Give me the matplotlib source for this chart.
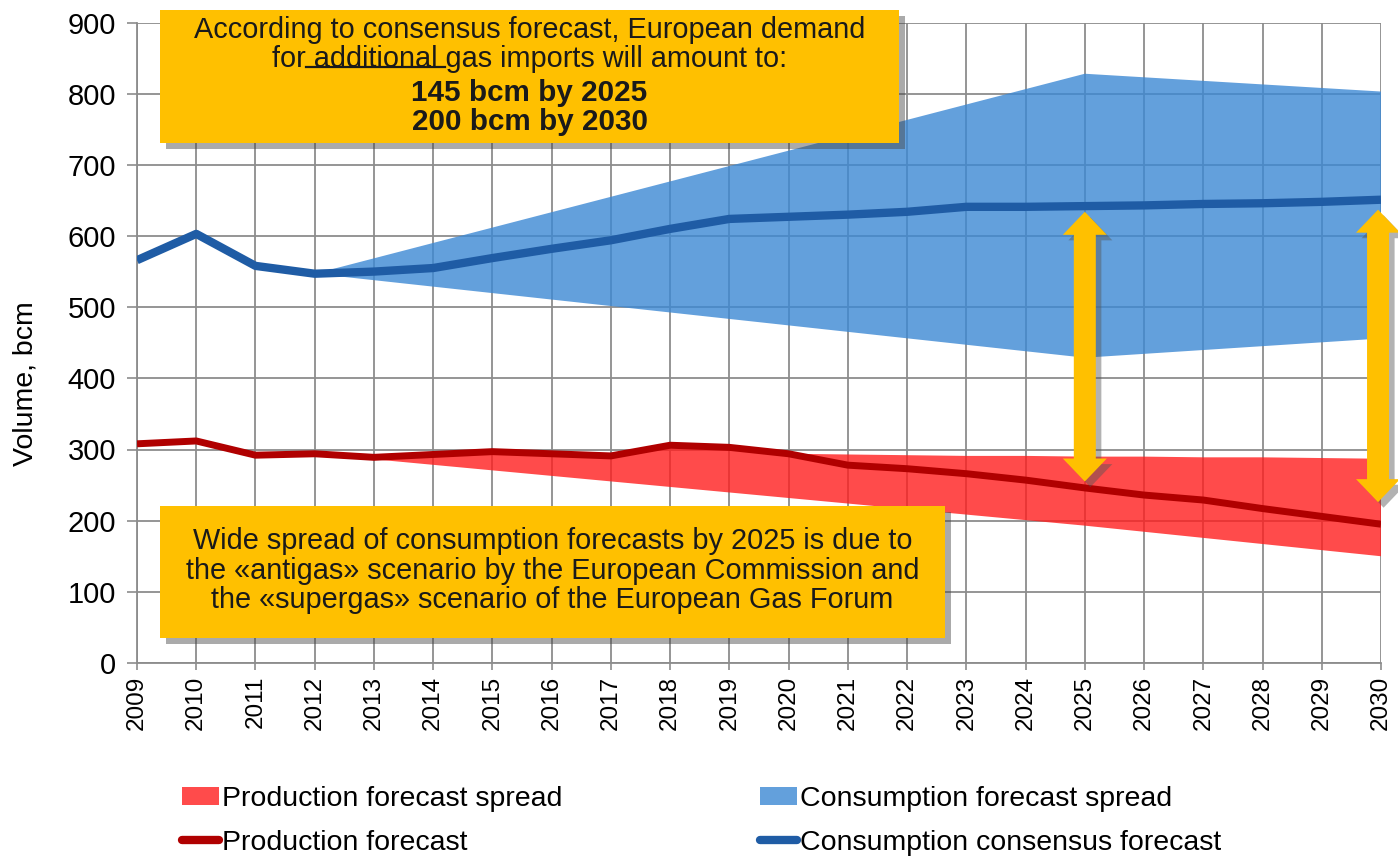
import numpy as np
import matplotlib
matplotlib.use("Agg")
import matplotlib.pyplot as plt
from matplotlib.patches import Rectangle, Polygon, Patch
from matplotlib.lines import Line2D
import matplotlib.patheffects as pe

plt.rcParams['font.family'] = ['Liberation Sans', 'DejaVu Sans']

# ---------------- data ----------------
years = list(range(2009, 2031))
year_labels = [str(y) for y in years]
consumption_consensus = [566, 603, 558, 547, 550, 555, 569, 582, 594, 610, 624, 627,
                         630, 634, 641, 641, 642, 643, 645, 646, 648, 651]
production_forecast = [308, 312, 292, 294, 289, 293, 297, 294, 291, 306, 303, 294,
                       278, 273, 266, 257, 246, 236, 229, 217, 206, 195]

cons_spread_years = [2012, 2025, 2030]
cons_spread_upper = [547, 828, 803]
cons_spread_lower = [547, 429, 456]

prod_upper_years = list(range(2012, 2031))
prod_spread_upper = [294, 289, 293, 297, 294, 291, 306, 303, 294, 293, 292, 291,
                     291, 290, 290, 289, 289, 288, 287]
prod_lower_years = [2012, 2025, 2030]
prod_spread_lower = [294, 193, 150]

arrow_years = [2025, 2029.95]
arrow_tops = [634, 637]
arrow_bottoms = [255, 226]

yticks = list(range(0, 901, 100))

legend_labels = ["Production forecast spread", "Production forecast",
                 "Consumption forecast spread", "Consumption consensus forecast"]

top_box_lines = ["According to consensus forecast, European demand",
                 "for additional gas imports will amount to:",
                 "145 bcm by 2025", "200 bcm by 2030"]
bottom_box_lines = ["Wide spread of consumption forecasts by 2025 is due to",
                    "the \u00abantigas\u00bb scenario by the European Commission and",
                    "the \u00absupergas\u00bb scenario of the European Gas Forum"]

# ---------------- colours ----------------
C_BLUE_FILL = '#3C88D4'
C_RED_FILL = '#FF1E1E'
C_BLUE_LINE = '#1F5CA5'
C_RED_LINE = '#B00000'
C_YELLOW = '#FFC000'
C_GRID = '#8C8C8C'

W, H = 1398, 857
fig = plt.figure(figsize=(W / 100, H / 100), dpi=100)

def fx(px):
    return px / W

def fy(py):
    return 1 - py / H

ax = fig.add_axes([fx(137), fy(663), fx(1381) - fx(137), fy(22.5) - fy(663)])
ax.set_xlim(2009, 2030)
ax.set_ylim(0, 900)

ax.set_xticks(years)
ax.set_xticklabels(year_labels, rotation=90, fontsize=17.5)
ax.set_yticks(yticks)
ax.set_yticklabels([str(v) for v in yticks], fontsize=21)
ax.tick_params(axis='y', length=7, width=1.2, color=C_GRID, pad=8)
ax.tick_params(axis='x', length=5, width=1.2, color=C_GRID, pad=4)
ax.grid(True, color=C_GRID, linewidth=1.3, zorder=0)
ax.set_axisbelow(True)
for s in ['top', 'right']:
    ax.spines[s].set_visible(False)
for s in ['left', 'bottom']:
    ax.spines[s].set_color(C_GRID)
    ax.spines[s].set_linewidth(1.3)

# spreads
ax.fill(np.r_[cons_spread_years, cons_spread_years[::-1]],
        np.r_[cons_spread_upper, cons_spread_lower[::-1]],
        color=C_BLUE_FILL, alpha=0.8, lw=0, zorder=2)
ax.fill(np.r_[prod_upper_years, prod_lower_years[::-1]],
        np.r_[prod_spread_upper, prod_spread_lower[::-1]],
        color=C_RED_FILL, alpha=0.8, lw=0, zorder=2)

# lines
ax.plot(years, consumption_consensus, color=C_BLUE_LINE, lw=6,
        solid_joinstyle='round', solid_capstyle='butt', zorder=4)
ax.plot(years, production_forecast, color=C_RED_LINE, lw=5,
        solid_joinstyle='round', solid_capstyle='butt', zorder=4)

# double-headed yellow arrows (single polygon each)
sw = 22 / 59.24 / 2
hw = 44 / 59.24 / 2
hl = 23 / 0.7117
shadow = [pe.SimplePatchShadow(offset=(4, -4), shadow_rgbFace='#555555', alpha=0.45), pe.Normal()]
for xa, top, bot in zip(arrow_years, arrow_tops, arrow_bottoms):
    verts = [(xa, top), (xa + hw, top - hl), (xa + sw, top - hl), (xa + sw, bot + hl),
             (xa + hw, bot + hl), (xa, bot), (xa - hw, bot + hl), (xa - sw, bot + hl),
             (xa - sw, top - hl), (xa - hw, top - hl)]
    a = Polygon(verts, closed=True, facecolor=C_YELLOW, lw=0, zorder=6, clip_on=False)
    a.set_path_effects(shadow)
    ax.add_patch(a)

# text boxes
box_shadow = [pe.SimplePatchShadow(offset=(4, -4), shadow_rgbFace='#444444', alpha=0.45), pe.Normal()]
top_box = Rectangle((fx(160), fy(143)), fx(899) - fx(160), fy(10) - fy(143),
                    transform=fig.transFigure, facecolor=C_YELLOW, lw=0, zorder=10)
top_box.set_path_effects(box_shadow)
fig.add_artist(top_box)
bot_box = Rectangle((fx(160), fy(638)), fx(945) - fx(160), fy(506) - fy(638),
                    transform=fig.transFigure, facecolor=C_YELLOW, lw=0, zorder=10)
bot_box.set_path_effects(box_shadow)
fig.add_artist(bot_box)

box_fs = 20.8
top_cx = (160 + 899) / 2
top_ys = [30, 59, 93, 122]
top_texts = []
for i, (line, yy) in enumerate(zip(top_box_lines, top_ys)):
    t = fig.text(fx(top_cx), fy(yy), line, ha='center', va='center',
                 fontsize=box_fs if i < 2 else box_fs + 0.5,
                 fontweight='bold' if i >= 2 else 'normal',
                 color='#1a1a1a', zorder=11)
    top_texts.append(t)

bot_cx = (160 + 945) / 2
bot_ys = [541, 571, 600]
for line, yy in zip(bottom_box_lines, bot_ys):
    fig.text(fx(bot_cx), fy(yy), line, ha='center', va='center',
             fontsize=box_fs, color='#1a1a1a', zorder=11)

# underline " additional "
fig.canvas.draw()
r = fig.canvas.get_renderer()
t2 = top_texts[1]
bb = t2.get_window_extent(r)
def text_w(s):
    tmp = fig.text(0, 0, s, fontsize=box_fs)
    w = tmp.get_window_extent(r).width
    tmp.remove()
    return w
w_for = text_w("for")
w_add = text_w("for additional")
sp = text_w("a a") - text_w("aa")
x0 = bb.x0 + w_for
x1 = bb.x0 + w_add + sp
yline = bb.y0 + bb.height * 0.2
fig.add_artist(Line2D([x0 / W, x1 / W], [yline / H, yline / H],
                      transform=fig.transFigure, color='#1a1a1a', lw=1.6, zorder=12))

# y label
fig.text(fx(26), fy(384), "Volume, bcm", rotation=90, ha='center', va='center', fontsize=20.5)

# legends
h_prod_spread = Patch(facecolor=C_RED_FILL, alpha=0.8, lw=0)
h_prod_line = Line2D([], [], color=C_RED_LINE, lw=6, solid_capstyle='round')
h_cons_spread = Patch(facecolor=C_BLUE_FILL, alpha=0.8, lw=0)
h_cons_line = Line2D([], [], color=C_BLUE_LINE, lw=6, solid_capstyle='round')
leg_kw = dict(loc='upper left', frameon=False, fontsize=20.5, borderpad=0, borderaxespad=0,
              handlelength=1.3, handleheight=0.6, handletextpad=0.12, labelspacing=0.62)
fig.legend([h_prod_spread, h_prod_line], legend_labels[:2],
           bbox_to_anchor=(fx(182), fy(786)), **leg_kw)
fig.legend([h_cons_spread, h_cons_line], legend_labels[2:],
           bbox_to_anchor=(fx(760), fy(786)), **leg_kw)

fig.savefig("out.png", dpi=100)
